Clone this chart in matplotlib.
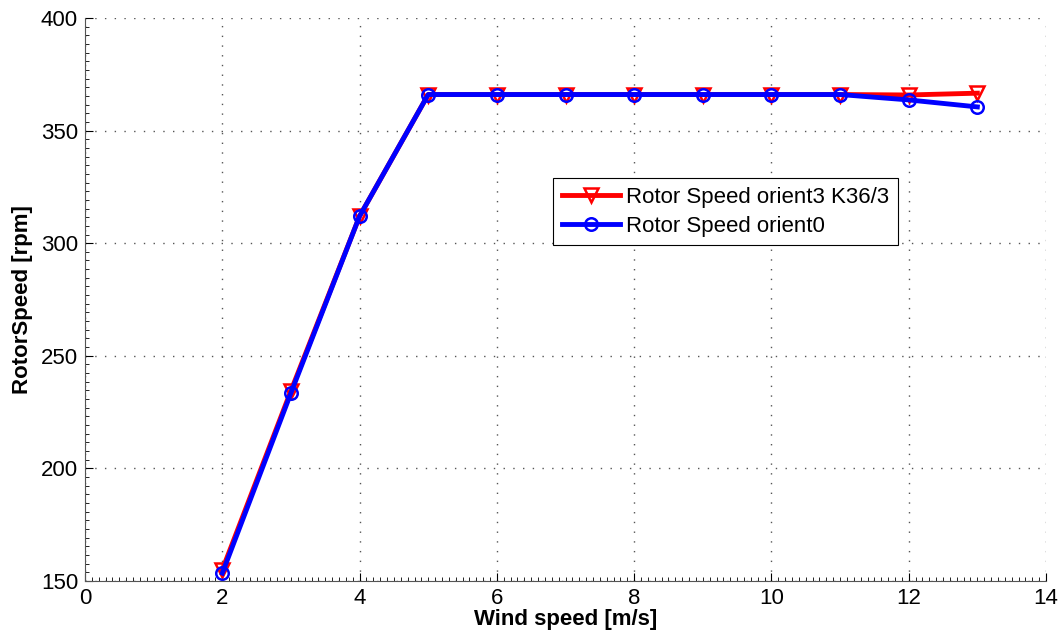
import matplotlib.pyplot as plt
from matplotlib.ticker import MultipleLocator, AutoMinorLocator

plt.rcParams['font.family'] = ['Liberation Sans', 'DejaVu Sans']

wind_speed = [2, 3, 4, 5, 6, 7, 8, 9, 10, 11, 12, 13]
speed_orient3 = [155.0, 234.5, 312.0, 366.0, 366.0, 366.0, 366.0, 366.0, 366.0, 366.0, 365.8, 366.6]
speed_orient0 = [153.5, 233.5, 312.0, 366.0, 366.0, 366.0, 366.0, 366.0, 366.0, 366.0, 363.6, 360.5]

fig = plt.figure(figsize=(10.63, 6.41), dpi=100)
ax = fig.add_axes([0.080, 0.0936, 0.904, 0.8784])

ax.plot(wind_speed, speed_orient3, color='red', linewidth=3.5, marker='v',
        markersize=10, markerfacecolor='none', markeredgecolor='red',
        markeredgewidth=1.8, label='Rotor Speed orient3 K36/3')
ax.plot(wind_speed, speed_orient0, color='blue', linewidth=3.5, marker='o',
        markersize=9, markerfacecolor='none', markeredgecolor='blue',
        markeredgewidth=1.8, label='Rotor Speed orient0')

ax.set_xlim(0, 14)
ax.set_ylim(150, 400)
ax.xaxis.set_major_locator(MultipleLocator(2))
ax.yaxis.set_major_locator(MultipleLocator(50))
ax.xaxis.set_minor_locator(AutoMinorLocator(20))
ax.yaxis.set_minor_locator(AutoMinorLocator(13))
ax.tick_params(which='major', direction='in', length=6, labelsize=16, width=0.8, pad=5)
ax.tick_params(which='minor', direction='in', length=3, width=0.6)
ax.grid(True, which='major', linestyle=(0, (1, 6)), color='#555555', linewidth=1)

for s in ['top', 'right']:
    ax.spines[s].set_visible(False)
for s in ['left', 'bottom']:
    ax.spines[s].set_color('#555555')

ax.set_xlabel('Wind speed [m/s]', fontsize=16, fontweight='bold', labelpad=0)
ax.set_ylabel('RotorSpeed [rpm]', fontsize=16, fontweight='bold', labelpad=6)

leg = ax.legend(loc='upper left', bbox_to_anchor=(0.487, 0.716), borderaxespad=0,
                fontsize=16, fancybox=False, framealpha=1, edgecolor='black',
                handlelength=2.6, handletextpad=0.3, borderpad=0.4, labelspacing=0.35)
leg.get_frame().set_linewidth(0.8)

fig.savefig('out.png', dpi=100)
